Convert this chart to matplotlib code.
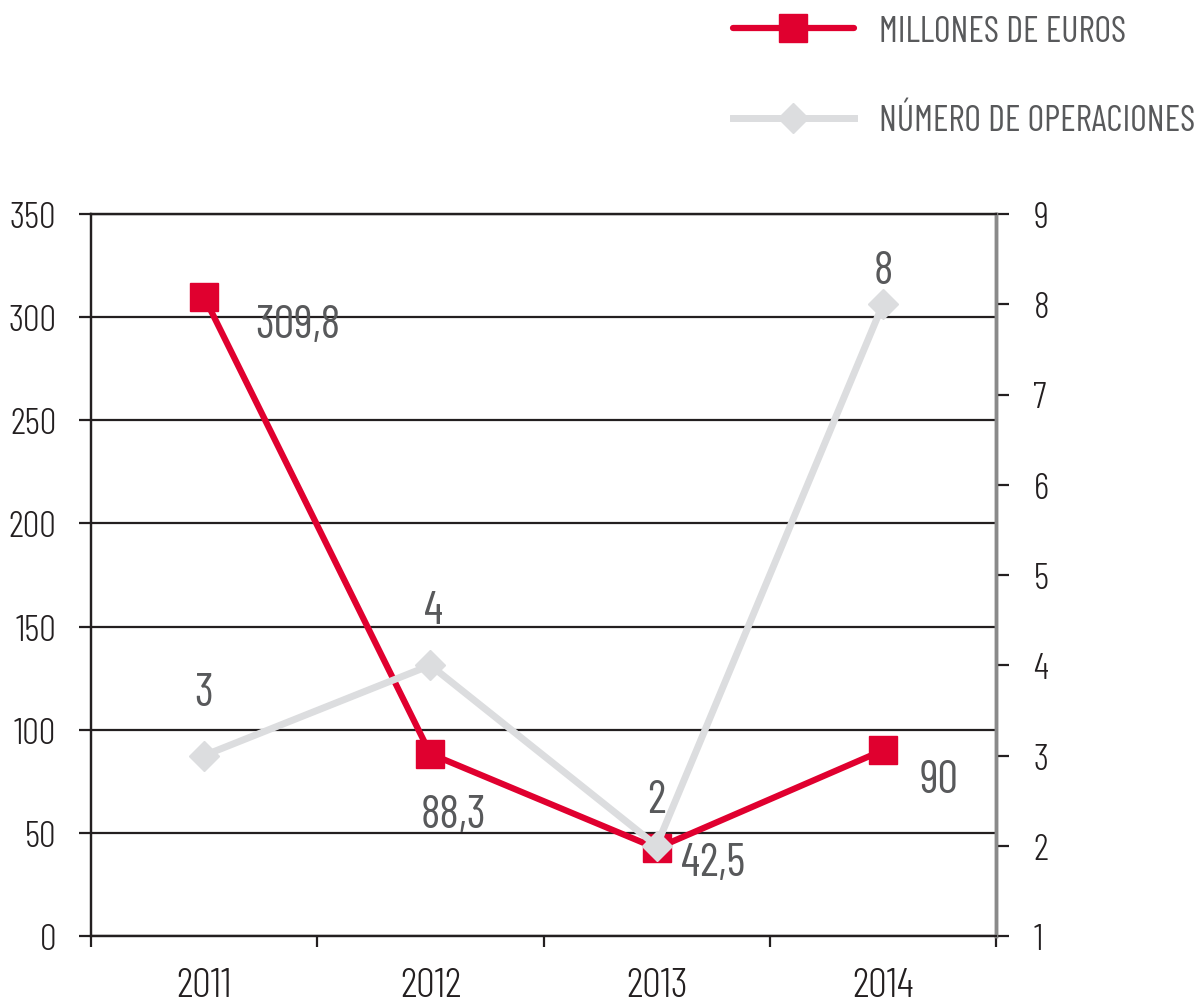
import matplotlib
matplotlib.use("Agg")
import matplotlib.pyplot as plt
from matplotlib.lines import Line2D

years = ["2011", "2012", "2013", "2014"]
millones = [309.8, 88.3, 42.5, 90]
millones_labels = ["309,8", "88,3", "42,5", "90"]
operaciones = [3, 4, 2, 8]
operaciones_labels = ["3", "4", "2", "8"]

# pixel offsets of the value labels
mill_off = [(94, -28), (23, -61), (57, -15), (56, -30)]
oper_off = [(0, 63), (3, 54), (0, 46), (0, 33)]

RED = "#e0002f"
GRAY = "#dcdddf"
TXT = "#58595b"
DARK = "#231f20"

plt.rcParams['font.family'] = ['Barlow Condensed', 'DejaVu Sans']

fig = plt.figure(figsize=(11.97, 10.03), dpi=100)
ax = fig.add_axes([91 / 1197, 1 - 937 / 1003, (996 - 91) / 1197, (937 - 215) / 1003])
ax2 = ax.twinx()

xs = [i + 0.5 for i in range(len(years))]

ax.plot(xs, millones, color=RED, lw=4.5, marker="s", ms=20, mec=RED, zorder=3)
for x, v, lab, off in zip(xs, millones, millones_labels, mill_off):
    ax.annotate(lab, (x, v), xytext=off, textcoords="offset pixels",
                ha="center", va="center", fontsize=33, color=TXT)

ax2.plot(xs, operaciones, color=GRAY, lw=5, marker="D", ms=15, mec=GRAY, zorder=3)
for x, v, lab, off in zip(xs, operaciones, operaciones_labels, oper_off):
    ax2.annotate(lab, (x, v), xytext=off, textcoords="offset pixels",
                 ha="center", va="center", fontsize=33, color=TXT)

ax.set_xlim(0, 4)
ax.set_ylim(0, 350)
ax.set_yticks(range(0, 351, 50))
ax2.set_ylim(1, 9)
ax2.set_yticks(range(1, 10))

ax.grid(axis="y", color=DARK, lw=1.6)
ax.set_axisbelow(True)
ax.set_xticks(range(5))
ax.set_xticklabels([])
ax.set_xticks(xs, minor=True)
ax.set_xticklabels(years, minor=True)
ax.tick_params(axis="x", which="major", length=8, width=1.6, color=DARK)
ax.tick_params(axis="x", which="minor", length=0, labelsize=30, labelcolor=DARK, pad=22)
ax.tick_params(axis="y", length=9, width=1.6, color=DARK, labelsize=27, labelcolor=DARK, pad=16)
ax2.tick_params(axis="y", length=9, width=1.6, color=DARK, labelsize=27, labelcolor=DARK, pad=18)
for lab in ax.get_xticklabels(minor=True) + ax.get_yticklabels() + ax2.get_yticklabels():
    lab.set_fontweight(300)

for a in (ax, ax2):
    for s in ("top", "left", "bottom"):
        a.spines[s].set_color(DARK)
        a.spines[s].set_linewidth(1.6)
    a.spines["right"].set_color("#8a8a8a")
    a.spines["right"].set_linewidth(2.5)

handles = [
    Line2D([], [], color=RED, lw=4.5, marker="s", ms=20, solid_capstyle="round"),
    Line2D([], [], color=GRAY, lw=5, marker="D", ms=15),
]
fig.legend(handles, ["MILLONES DE EUROS", "NÚMERO DE OPERACIONES"],
           loc="upper left", bbox_to_anchor=(733 / 1197, 1 - 16 / 1003),
           frameon=False, fontsize=26, labelcolor=TXT, handlelength=3.35,
           handletextpad=0.7, labelspacing=1.55, borderpad=0, borderaxespad=0)

fig.savefig("out.png", dpi=100)
